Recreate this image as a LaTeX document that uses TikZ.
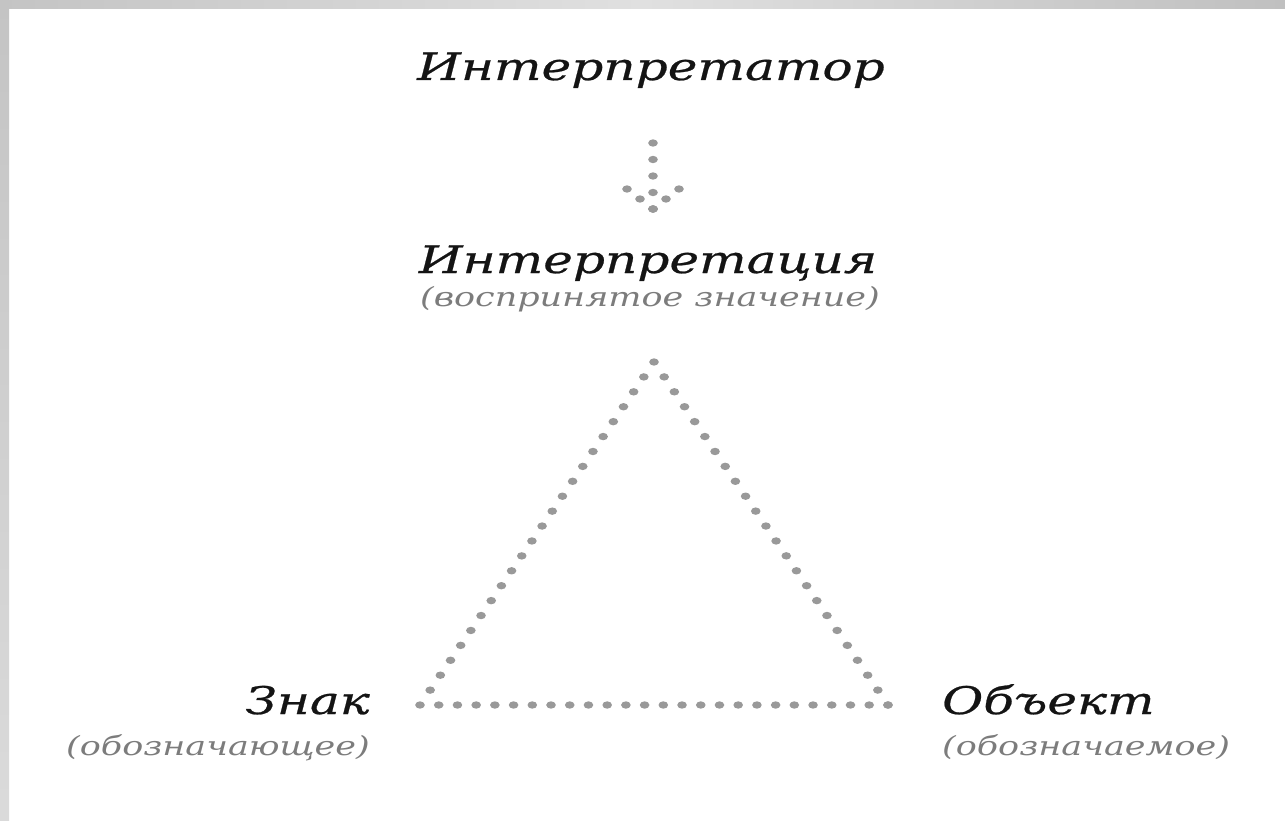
\documentclass[tikz,border=0pt]{standalone}
\usepackage{fontspec}
\setmainfont{DejaVu Serif}
\newfontfamily\labfont{DejaVu Serif}[FakeStretch=1.32]
\newfontfamily\labfontb{DejaVu Serif}[FakeStretch=1.32,FakeBold=0.6]
\usetikzlibrary{decorations.markings}
\definecolor{dotgray}{HTML}{999999}
\definecolor{subgray}{HTML}{7C7C7C}
\definecolor{ink}{HTML}{141414}
\definecolor{edgeA}{HTML}{C4C4C4}
\definecolor{edgeB}{HTML}{E0E0E0}
\definecolor{edgeC}{HTML}{C0C0C0}
\begin{document}
\begin{tikzpicture}[x=1pt,y=-1pt,
  lab/.style={inner sep=0pt, text=ink, font=\labfontb\itshape\fontsize{38}{42}\selectfont},
  sublab/.style={inner sep=0pt, text=subgray, font=\labfont\itshape\fontsize{26.5}{30}\selectfont},
  dotside/.style={postaction={decorate}, decoration={markings,
     mark=between positions 0 and 1 step #1 with {\pgftransformresetnontranslations\fill[dotgray] (0,0) ellipse (4.8pt and 3.7pt);}}}
]
\useasboundingbox (0,0) rectangle (1285,821);
\fill[white] (0,0) rectangle (1285,821);
\shade[left color=edgeA, right color=edgeB] (0,0) rectangle (642,9);
\shade[left color=edgeB, right color=edgeC] (642,0) rectangle (1285,9);
\shade[top color=edgeA, bottom color=edgeB!80!edgeA] (0,0) rectangle (9,821);

% labels
\node[lab, anchor=base] (ttl) at (651,80) {Интерпретатор};
\node[lab, anchor=base] (mid) at (648,273) {Интерпретация};
\node[sublab, anchor=base] (midsub) at (650,306) {(воспринятое значение)};
\node[lab, anchor=base east] (sgn) at (370,714) {Знак};
\node[sublab, anchor=base east] (sgnsub) at (370,755) {(обозначающее)};
\node[lab, anchor=base west] (obj) at (942,714) {Объект};
\node[sublab, anchor=base west] (objsub) at (942,755) {(обозначаемое)};

% arrow from interpreter to interpretation
\coordinate (atop) at (653,143);
\coordinate (atip) at (653,209);
\coordinate (awl) at (627,189);
\coordinate (awr) at (679,189);
\path[dotside=0.25] (atop) -- (atip);
\path[dotside=0.5] (atip) -- (awl);
\path[dotside=0.5] (atip) -- (awr);

% triangle
\coordinate (apex) at (654,362);
\coordinate (cs) at (420,705);
\coordinate (co) at (888,705);
\path[dotside=0.04348] (apex) -- (cs);
\path[dotside=0.04] (cs) -- (co);
\path[dotside=0.04348] (co) -- (apex);
\end{tikzpicture}
\end{document}
